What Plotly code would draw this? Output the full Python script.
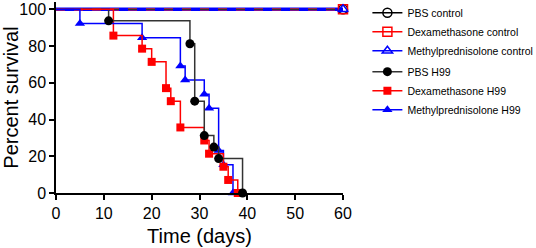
import plotly.graph_objects as go

# ---- data ----
ctrl_days = [0, 60]
pbs_ctrl = [100, 100]
dex_ctrl = [100, 100]
mp_ctrl = [100, 100]

pbs_days = [0, 11, 28, 29, 31, 33, 34, 39]
pbs_surv = [100, 93.75, 81.25, 50, 31.25, 25, 18.75, 0]

dex_days = [0, 12, 18, 20, 23, 24, 26, 31, 32, 35, 36, 38]
dex_surv = [100, 85.7, 78.6, 71.4, 57.1, 50, 35.7, 28.6, 21.4, 14.3, 7.1, 0]

mp_days = [0, 5, 18, 26, 27, 31, 32, 34, 35, 37]
mp_surv = [100, 92.3, 84.6, 69.2, 61.5, 53.8, 46.2, 23.1, 15.4, 0]

x_ticks = [0, 10, 20, 30, 40, 50, 60]
y_ticks = [0, 20, 40, 60, 80, 100]

FONT = "Liberation Sans, Arial, sans-serif"
fig = go.Figure()

# control lines (drawn underneath, then legend entries with end markers)
fig.add_trace(go.Scatter(x=ctrl_days, y=mp_ctrl, mode="lines",
                         line=dict(color="#0000FF", width=3.5),
                         showlegend=False, hoverinfo="skip", legendgroup="c"))
fig.add_trace(go.Scatter(x=ctrl_days, y=dex_ctrl, mode="lines",
                         line=dict(color="#FF2020", width=2.2, dash="dash"),
                         showlegend=False, hoverinfo="skip", legendgroup="c"))
fig.add_trace(go.Scatter(x=ctrl_days, y=pbs_ctrl, mode="lines",
                         line=dict(color="#333333", width=1.3, dash="dash"),
                         showlegend=False, hoverinfo="skip", legendgroup="c"))

ctrl_specs = [
    ("PBS control", pbs_ctrl, "#000000", "circle-open", 1),
    ("Dexamethasone control", dex_ctrl, "#FF0000", "square-open", 2),
    ("Methylprednisolone control", mp_ctrl, "#0000FF", "triangle-up-open", 3),
]
for name, ys, col, sym, rank in ctrl_specs:
    fig.add_trace(go.Scatter(x=ctrl_days[-1:], y=ys[-1:], mode="lines+markers", name=name,
                             line=dict(color=col, width=1.5),
                             marker=dict(symbol=sym, size=9, color=col, line=dict(width=1.5, color=col)),
                             cliponaxis=False, legendgroup="c", legendrank=rank))

h99_specs = [
    ("PBS H99", pbs_days, pbs_surv, "#333333", "#000000", "circle", 9, 4),
    ("Dexamethasone H99", dex_days, dex_surv, "#FF0000", "#FF0000", "square", 8, 5),
    ("Methylprednisolone H99", mp_days, mp_surv, "#0000FF", "#0000FF", "triangle-up", 9, 6),
]
for name, xs, ys, lc, mc, sym, ms, rank in h99_specs:
    # first segment from day 0 at 100 %
    fig.add_trace(go.Scatter(x=xs[:2], y=ys[:2], mode="lines", line_shape="hv",
                             line=dict(color=lc, width=1.5), showlegend=False,
                             hoverinfo="skip", legendgroup="h"))
for name, xs, ys, lc, mc, sym, ms, rank in reversed(h99_specs):
    fig.add_trace(go.Scatter(x=xs[1:], y=ys[1:], mode="lines+markers", line_shape="hv",
                             name=name, line=dict(color=lc, width=1.5),
                             marker=dict(symbol=sym, size=ms, color=mc),
                             cliponaxis=False, legendgroup="h", legendrank=rank))

axis_common = dict(showgrid=False, zeroline=False, showline=True, linecolor="black",
                   linewidth=1.5, ticks="outside", ticklen=5, tickwidth=1.5,
                   tickcolor="black", tickfont=dict(size=16, color="black", family=FONT))

fig.update_layout(
    width=536, height=248,
    margin=dict(l=56, r=193, t=2, b=55, autoexpand=False),
    paper_bgcolor="white", plot_bgcolor="white",
    font=dict(family=FONT, color="black"),
    xaxis=dict(range=[0, 60], tickvals=x_ticks, **axis_common,
               title=dict(text="Time (days)", font=dict(size=20, family=FONT), standoff=8)),
    yaxis=dict(range=[0, 104], tickvals=y_ticks, **axis_common,
               title=dict(text="Percent survival", font=dict(size=20, family=FONT), standoff=6)),
    legend=dict(x=1.085, y=1.02, xanchor="left", yanchor="top", traceorder="grouped",
                tracegroupgap=2, font=dict(size=10.5, family=FONT, color="black"),
                bgcolor="rgba(0,0,0,0)", itemwidth=30),
)

fig.write_html("out.html", config={"displayModeBar": False},
               post_script="document.body.style.margin='0';document.body.style.padding='0';")
